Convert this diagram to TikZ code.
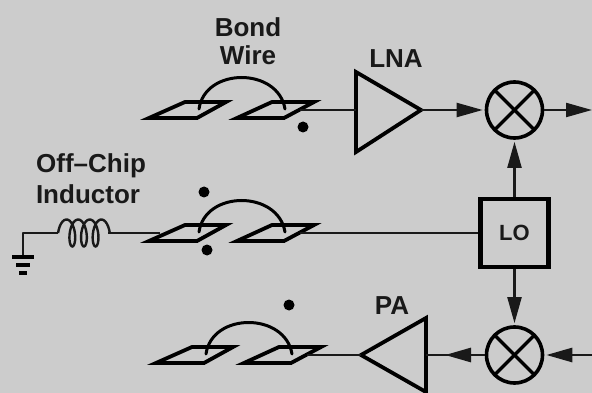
\documentclass[tikz,border=0pt]{standalone}
\usepackage{fontspec}
\setmainfont{Liberation Sans}
\usetikzlibrary{arrows.meta,calc}
\tikzset{
  wire/.style={line width=2.2pt,draw=black!90},
  pad/.style={line width=3.8pt,line join=miter,miter limit=8,draw=black},
  bond/.style={line width=3pt,draw=black,line cap=round},
  amp/.style={line width=3.8pt,line join=miter,draw=black},
  mixer/.style={circle,draw=black,line width=3.6pt,minimum size=56pt,inner sep=0pt},
  lobox/.style={rectangle,draw=black,line width=4.2pt,minimum size=68pt,inner sep=0pt},
  lab/.style={font=\fontsize{26}{30}\selectfont\bfseries,text=black!90,inner sep=0pt,align=center},
  head/.style={wire,-{Triangle[length=26pt,width=14pt]}},
  dotmark/.style={circle,fill=black,inner sep=0pt,minimum size=11pt},
}
\begin{document}
\begin{tikzpicture}[x=1pt,y=-1pt]
\fill[fill=black!20] (0,0) rectangle (592,393);
\useasboundingbox (0,0) rectangle (592,393);
\clip (0,0) rectangle (592,393);

% labels
\node[lab] (bondA) at (248,27) {Bond};
\node[lab] (bondB) at (248,55) {Wire};
\node[lab] (lnaL) at (396,59) {LNA};
\node[lab] (paL) at (392,306) {PA};
\node[lab] (offA) at (91,166) {Off--Chip};
\node[lab] (offB) at (88,194) {Inductor};

% blocks
\node[mixer] (mixT) at (514.5,110) {};
\node[mixer] (mixB) at (514.5,355) {};
\node[lobox,lab,font=\fontsize{22}{26}\selectfont\bfseries] (lo) at (514.5,233) {LO};
\foreach \m in {mixT,mixB}{
  \draw[line width=3.2pt,draw=black] ($(\m)+(-20,-20)$) -- ($(\m)+(20,20)$);
  \draw[line width=3.2pt,draw=black] ($(\m)+(-20,20)$) -- ($(\m)+(20,-20)$);
}

% LNA and PA triangles
\coordinate (lnaT) at (356,72);
\coordinate (lnaB) at (356,152);
\coordinate (lnaO) at (421,110);
\coordinate (lnaI) at (356,110);
\draw[amp] (lnaT) -- (lnaO) -- (lnaB) -- cycle;
\coordinate (paT) at (426,318);
\coordinate (paB) at (426,392);
\coordinate (paO) at (361,355);
\coordinate (paI) at (426,355);
\draw[amp] (paT) -- (paO) -- (paB) -- cycle;

% pads
\foreach \n/\dx/\dy in {a/0/0,b/0/123,c/7/245}{
  \coordinate (\n1) at ($(149,118)+(\dx,\dy)$);
  \draw[pad] (\n1) -- ++(48,0) -- ++(29,-16) -- ++(-41,0) -- cycle;
  \coordinate (\n2) at ($(237,118)+(\dx,\dy)$);
  \draw[pad] (\n2) -- ++(47,0) -- ++(30,-16) -- ++(-42,0) -- cycle;
  \draw[bond] ($(199,109)+(\dx,\dy)$) .. controls ($(205,67)+(\dx,\dy)$) and ($(278,67)+(\dx,\dy)$) .. ($(285,109)+(\dx,\dy)$);
  \coordinate (\n P) at ($(300,110)+(\dx,\dy)$);
}
\coordinate (bIn) at (160,233);

% wires
\draw[wire] (aP) -- (lnaI);
\draw[wire] (bP) -- (lo.west);
\draw[wire,line width=2.8pt] (cP) -- (paO);

% arrows
\coordinate (outT) at (592,110);
\coordinate (inB) at (592,355);
\coordinate (paTip) at (445,355);
\draw[head,shorten >=2pt] (lnaO) -- (mixT.west);
\draw[head] (mixT.east) -- (outT);
\draw[head,shorten >=2pt] (lo.north) -- (mixT.south);
\draw[head,shorten >=2pt] (lo.south) -- (mixB.north);
\draw[head,shorten >=2pt,line width=2.8pt] (inB) -- (mixB.east);
\draw[wire,line width=2.8pt] (mixB.west) -- (paI);
\draw[head,line width=2.8pt] (mixB.west) -- (paTip);

% inductor and ground
\coordinate (indL) at (58,233);
\coordinate (indR) at (108,233);
\coordinate (gndT) at (23,233);
\coordinate (gndB) at (23,257);
\draw[wire,line join=round] (indL) -- (gndT) -- (gndB);
\draw[wire,line width=2.4pt] plot[smooth,samples=90,domain=-1.5708:20.42,variable=\t]
  ({66.5+1.85*\t+5.5*sin(\t r)},{233-13.5*cos(\t r)});
\draw[wire] (indR) -- (bIn);
\draw[line width=3.4pt,draw=black] (12,257) -- (34,257);
\draw[line width=3.4pt,draw=black] (16,265) -- (30,265);
\draw[line width=3.4pt,draw=black] (19,273) -- (27,273);

% dots
\node[dotmark] (d1) at (303,127) {};
\node[dotmark] (d2) at (204,192) {};
\node[dotmark] (d3) at (207,250) {};
\node[dotmark] (d4) at (289,305) {};
\end{tikzpicture}
\end{document}
